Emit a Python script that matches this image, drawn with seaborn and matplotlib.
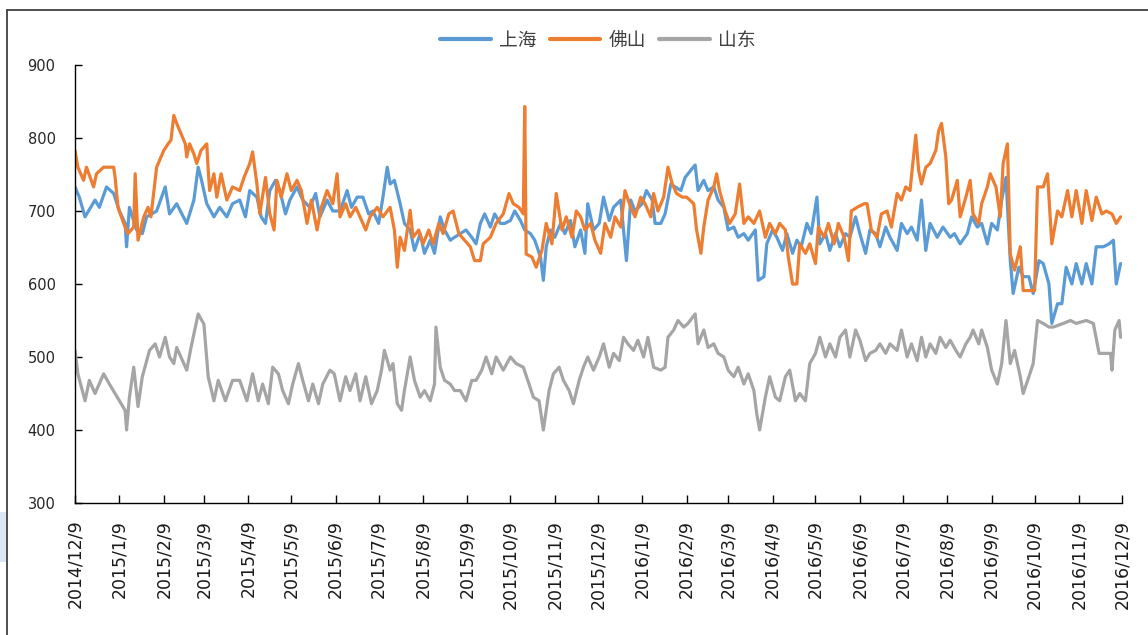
import pandas as pd
import matplotlib
matplotlib.use('Agg')
import matplotlib.pyplot as plt
import matplotlib.dates as mdates
from matplotlib.ticker import FuncFormatter
from matplotlib.lines import Line2D
from matplotlib.patches import Rectangle
import seaborn as sns

start = pd.Timestamp('2014-12-09')
end = pd.Timestamp('2016-12-09')

# days after 2014/12/9 and price
sh_days = [0, 3, 7, 14, 17, 22, 27, 31, 35, 36, 38, 43, 47, 50, 57, 63, 66, 71, 78, 83, 86, 88, 92, 97, 101, 106, 110,
           115, 119, 122, 127, 130, 133, 136, 140, 143, 147, 150, 155, 159, 164, 168, 171, 176, 180, 185, 190, 193, 197,
           201, 205, 208, 212, 215, 218, 220, 223, 227, 230,
           234, 237, 241, 244, 248, 251, 255, 258, 262, 265, 269, 273, 277, 280, 283, 286, 290, 293, 297, 300, 304, 307,
           311, 314, 318, 321, 325, 327, 329, 332, 335, 339, 342, 346, 349,
           353, 356, 358, 362, 366, 369, 373, 376, 381, 385, 388, 391, 396, 399, 403, 405, 409, 412, 416, 419, 423, 426,
           430, 433, 435, 439, 442, 446, 449, 453, 456, 460, 463, 467, 470,
           475, 477, 481, 483, 487, 490, 494, 497, 501, 504, 507, 511, 514, 518, 520, 524, 527, 531, 534, 538, 541, 545,
           548, 552, 555, 559, 562, 566, 569, 574, 577, 581, 584, 588,
           591, 594, 597, 602, 606, 611, 614, 618, 623, 626, 630, 633, 637, 640, 644, 647, 650, 653, 655, 659, 662, 666,
           669, 673, 676, 680, 682, 686, 689, 692, 696, 699, 703, 706, 710, 713, 718, 722, 725, 727, 730]
sh_vals = [733, 719, 692, 715, 705, 733, 724, 700, 683, 651, 705, 674, 669, 692, 700, 733, 696, 710, 683, 715, 760, 745,
           710, 692, 705, 692, 710,
           715, 692, 728, 719, 692, 683, 728, 742, 728, 696, 715, 733, 715, 705, 724, 692, 715, 700, 700, 728, 705, 719,
           719, 696, 700, 683, 719, 760, 737, 742, 710, 683,
           674, 646, 669, 642, 660, 642, 692, 674, 660, 664, 669, 674, 664, 655, 683, 696, 678, 696, 683, 683, 687, 700,
           687, 674, 669, 660, 637, 605, 651, 674, 664, 683, 669, 687, 651,
           674, 642, 710, 674, 683, 719, 687, 705, 715, 632, 715, 700, 710, 728, 715, 683, 683, 696, 737, 733, 728, 746,
           756, 763, 728, 742, 728, 733, 715, 705, 674, 678, 664, 669, 660,
           674, 605, 610, 655, 674, 664, 646, 669, 642, 660, 651, 683, 669, 719, 655, 669, 646, 669, 651, 669, 664, 692,
           669, 642, 674, 669, 651, 678, 664, 646, 683, 669, 678, 660,
           715, 646, 683, 664, 678, 664, 669, 655, 669, 692, 678, 683, 655, 683, 674, 715, 746, 632, 587, 623, 610, 610,
           587, 632, 628, 600, 546, 573, 573, 623, 600, 628, 600, 628, 600, 651, 651, 655, 660, 600, 628]

fs_days = [0, 2, 6, 8, 13, 15, 20, 27, 28, 30, 34, 37, 41, 42, 44, 48, 51, 53, 57, 62, 65, 67, 69, 71, 77, 78, 80, 83, 85,
           88, 92, 93, 94, 97, 99, 102, 106, 110,
           115, 118, 122, 124, 127, 129, 133, 136, 139, 141, 144, 148, 151, 155, 158, 162, 165, 169, 172, 176, 180, 183,
           185, 189, 192, 196, 199, 203, 206, 211, 215, 220, 223, 225, 227, 230,
           234, 236, 240, 243, 247, 250, 254, 257, 261, 264, 268, 272, 276, 279, 283, 285, 290, 294, 299, 303, 306, 310,
           313, 314, 315, 319, 322, 326, 329, 333, 336, 340, 343, 347, 350,
           353, 356, 360, 363, 367, 370, 374, 377, 381, 384, 388, 391, 395, 398, 402, 404, 407, 411, 414, 417, 420, 424,
           427, 432, 434, 437, 439, 442, 446, 448, 450, 454, 457, 461, 464, 467, 470,
           474, 478, 482, 485, 489, 492, 496, 498, 501, 504, 506, 510, 513, 517, 519, 523, 526, 530, 533, 537, 540, 542,
           546, 551, 553, 556, 560, 563, 567, 570, 574, 577, 580, 583, 587, 589,
           591, 594, 597, 601, 603, 605, 608, 610, 612, 616, 618, 622, 625, 627, 631, 633, 637, 639, 643, 646, 648, 651,
           653, 656, 660, 662, 666, 670, 672, 676, 679, 682, 686, 689, 693, 696, 699, 703, 706, 710, 713, 717, 720, 724,
           727, 730]
fs_vals = [783, 760, 742, 760, 733, 751, 760, 760, 746, 705, 683, 669, 678, 751, 660, 692, 705, 692, 760, 783, 792, 797,
           831, 820, 792, 774, 792, 778, 765, 783, 792, 756, 728, 751, 719, 751, 715, 733,
           728, 746, 765, 781, 737, 696, 746, 696, 674, 742, 719, 751, 728, 742, 728, 683, 715, 674, 705, 728, 710, 751,
           692, 710, 692, 705, 692, 674, 692, 705, 692, 705, 674, 623, 664, 646,
           701, 664, 674, 655, 674, 655, 683, 669, 696, 700, 669, 660, 651, 632, 632, 655, 664, 683, 696, 724, 710, 705,
           696, 843, 641, 637, 623, 646, 683, 655, 724, 674, 692, 664, 700,
           692, 674, 683, 660, 642, 683, 664, 692, 678, 728, 705, 692, 719, 710, 692, 724, 700, 719, 760, 737, 724, 719,
           719, 710, 674, 642, 678, 715, 733, 751, 728, 700, 683, 696, 737, 683, 692,
           683, 700, 664, 683, 669, 683, 674, 637, 600, 600, 655, 642, 655, 628, 678, 664, 683, 655, 683, 664, 632, 700,
           705, 710, 710, 674, 664, 696, 700, 678, 724, 715, 733, 728, 804, 756,
           737, 760, 765, 783, 810, 820, 774, 710, 715, 742, 692, 719, 742, 696, 683, 710, 733, 751, 733, 692, 765, 792,
           641, 619, 651, 591, 591, 591, 733, 733, 751, 655, 700, 692, 728, 692, 728, 683, 728, 687, 719, 696, 700, 696,
           683, 692]

sd_days = [0, 2, 7, 10, 14, 20, 24, 31, 35, 36, 38, 41, 44, 47, 52, 56, 59, 63, 66, 69, 71, 78, 81, 86, 90, 93, 97, 100,
           105, 110,
           115, 120, 124, 128, 131, 135, 138, 142, 145, 149, 152, 156, 159, 163, 166, 170, 173, 178, 181, 185, 189, 192,
           196, 199, 203, 207, 211, 214, 216, 220, 222, 225, 228, 230,
           234, 237, 241, 244, 248, 251, 252, 255, 258, 262, 265, 269, 273, 277, 280, 284, 287, 291, 294, 299, 304, 308,
           313, 317, 320, 324, 327, 331, 334, 338, 341, 345, 348, 352,
           355, 358, 362, 366, 369, 373, 376, 380, 383, 386, 390, 393, 397, 400, 404, 409, 412, 414, 418, 421, 425, 428,
           433, 435, 439, 442, 446, 449, 453, 456, 460, 463, 467, 470, 474, 476, 478,
           482, 485, 489, 492, 496, 499, 503, 506, 510, 513, 517, 520, 524, 527, 531, 534, 538, 541, 545, 548, 552, 555,
           559, 562, 566, 569, 574, 577, 581, 584, 588,
           591, 594, 597, 601, 604, 608, 611, 615, 618, 622, 625, 627, 631, 633, 637, 640, 644, 647, 650, 653, 656, 660,
           662, 666, 669, 672, 676, 680, 683, 690, 695, 699, 706, 711, 715, 719, 723, 724, 726, 729, 730]
sd_vals = [509, 477, 440, 468, 450, 477, 463, 440, 427, 400, 445, 486, 432, 473, 509, 518, 500, 527, 500, 491, 513, 482,
           513, 559, 545, 473, 440, 468, 440, 468,
           468, 440, 477, 440, 463, 436, 486, 477, 454, 436, 463, 491, 468, 440, 463, 436, 463, 482, 477, 440, 473, 454,
           477, 440, 473, 436, 454, 482, 509, 482, 491, 436, 427, 454,
           500, 468, 445, 454, 440, 463, 541, 486, 468, 463, 454, 454, 440, 468, 468, 482, 500, 477, 500, 482, 500, 491,
           486, 463, 445, 440, 400, 454, 477, 486, 468, 454, 436, 468,
           486, 500, 482, 500, 518, 486, 505, 495, 527, 518, 509, 523, 500, 527, 486, 482, 486, 527, 537, 550, 541, 546,
           559, 518, 537, 513, 518, 505, 500, 482, 473, 486, 463, 477, 454, 422, 400,
           445, 473, 445, 440, 473, 482, 440, 450, 440, 491, 505, 527, 500, 518, 500, 527, 537, 500, 537, 523, 495, 505,
           509, 518, 505, 518, 509, 537, 500, 518, 495,
           527, 500, 518, 505, 527, 513, 523, 509, 500, 518, 527, 537, 518, 537, 513, 482, 463, 491, 550, 491, 509, 473,
           450, 473, 491, 550, 546, 541, 541, 546, 550, 546, 550, 546, 505, 505, 505, 482, 537, 550, 527]

cities = ['上海', '佛山', '山东']
colors = ['#5B9BD5', '#ED7D31', '#A5A5A5']


def to_frame(days, vals, city):
    return pd.DataFrame({'date': start + pd.to_timedelta(days, unit='D'), 'price': vals, 'city': city})


df = pd.concat([to_frame(sh_days, sh_vals, cities[0]),
                to_frame(fs_days, fs_vals, cities[1]),
                to_frame(sd_days, sd_vals, cities[2])], ignore_index=True)

sns.set_theme(style='white')
plt.rcParams['font.family'] = ['Noto Sans CJK SC', 'DejaVu Sans']

fig = plt.figure(figsize=(11.48, 6.35), dpi=100)
ax = fig.add_axes([75 / 1148, 132 / 635, 1047 / 1148, 438 / 635])

sns.lineplot(data=df, x='date', y='price', hue='city', palette=dict(zip(cities, colors)),
             estimator=None, lw=2.3, ax=ax, legend=False)

ax.set_xlim(start, end)
ax.set_ylim(300, 900)
ax.set_yticks(range(300, 1000, 100))
ax.xaxis.set_major_locator(mdates.MonthLocator(bymonthday=9))
ax.xaxis.set_major_formatter(FuncFormatter(lambda v, p: '{0.year}/{0.month}/{0.day}'.format(mdates.num2date(v))))
ax.set_xlabel('')
ax.set_ylabel('')

for side in ['top', 'right']:
    ax.spines[side].set_visible(False)
for side in ['left', 'bottom']:
    ax.spines[side].set_color('black')
    ax.spines[side].set_linewidth(1)

ax.tick_params(axis='y', direction='in', length=5, width=1, color='black', labelsize=10.5,
               labelcolor='#262626', pad=14, left=True)
ax.tick_params(axis='x', direction='in', length=6, width=1, color='black', labelsize=12.5,
               labelcolor='#1a1a1a', pad=12, bottom=True, labelrotation=90)
for lab in ax.get_xticklabels() + ax.get_yticklabels():
    lab.set_family('DejaVu Sans')

handles = [Line2D([], [], color=c, lw=3) for c in colors]
fig.legend(handles, cities, loc='center', bbox_to_anchor=(598 / 1148, 1 - 40 / 635), ncol=3, frameon=False,
           fontsize=13.5, handlelength=2.7, handletextpad=0.45, columnspacing=0.7, labelcolor='#404040')

# outer frame of the chart area and the strip at the left edge
fig.add_artist(Line2D([7 / 1148, 7 / 1148], [0, 1 - 10 / 635], transform=fig.transFigure, color='#404040', lw=1.3))
fig.add_artist(Line2D([7 / 1148, 1], [1 - 10 / 635, 1 - 10 / 635], transform=fig.transFigure, color='#404040', lw=1.3))
fig.add_artist(Rectangle((0, 1 - 562 / 635), 6 / 1148, 50 / 635, transform=fig.transFigure,
                         facecolor='#dbe5f3', edgecolor='none'))

fig.savefig('out.png', dpi=100)
